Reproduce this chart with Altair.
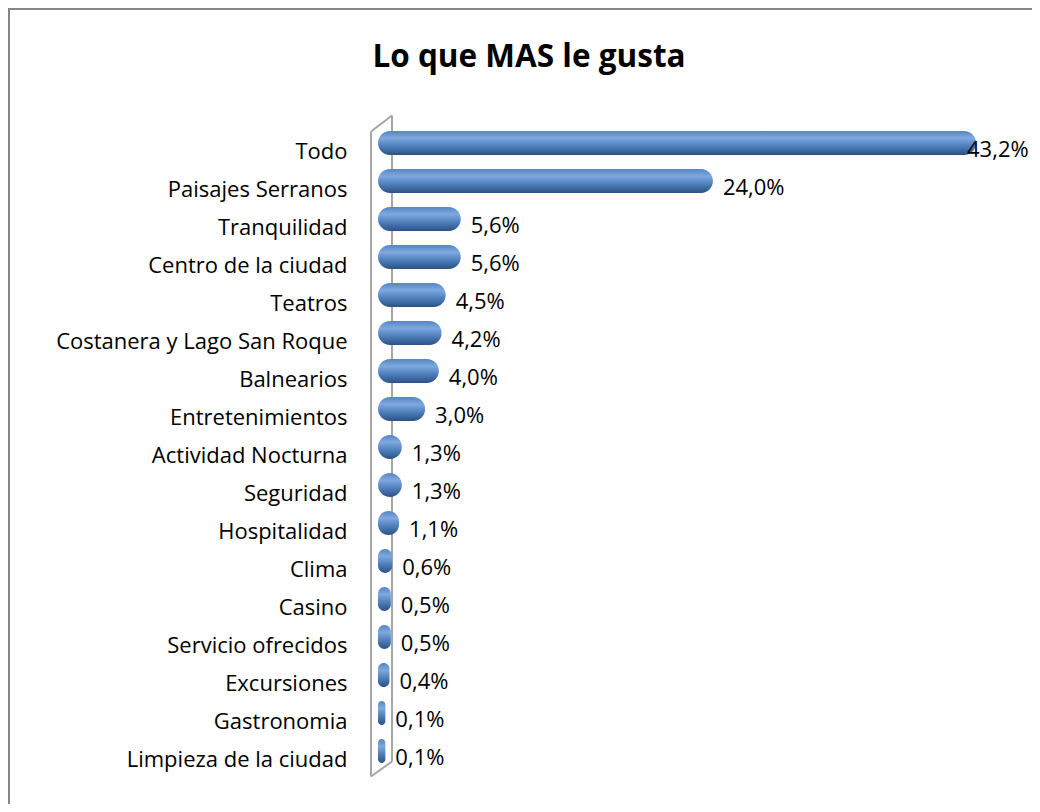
import altair as alt
import pandas as pd

categories = ["Todo", "Paisajes Serranos", "Tranquilidad", "Centro de la ciudad", "Teatros",
              "Costanera y Lago San Roque", "Balnearios", "Entretenimientos", "Actividad Nocturna",
              "Seguridad", "Hospitalidad", "Clima", "Casino ", "Servicio ofrecidos", "Excursiones",
              "Gastronomia", "Limpieza de la ciudad"]
values = [43.2, 24.0, 5.6, 5.6, 4.5, 4.2, 4.0, 3.0, 1.3, 1.3, 1.1, 0.6, 0.5, 0.5, 0.4, 0.1, 0.1]
title_text = "Lo que MAS le gusta"

df = pd.DataFrame({"cat": categories, "v": values})

FONT = "Open Sans"
FS = 22
W, H = 603, 646
PL, PT = 370, 116
TOTAL_W, TOTAL_H = 1024, 796

grad = alt.LinearGradient(
    gradient="linear",
    stops=[alt.GradientStop(color="#5585c4", offset=0),
           alt.GradientStop(color="#7fa8e0", offset=0.3),
           alt.GradientStop(color="#4f81bd", offset=0.62),
           alt.GradientStop(color="#2c5183", offset=1)],
    x1=0, x2=0, y1=0, y2=1)

base = alt.Chart(df)
y_enc = alt.Y("cat:N", sort=categories,
              scale=alt.Scale(paddingInner=0.37, paddingOuter=0.185),
              axis=alt.Axis(title=None, domain=False, ticks=False, grid=False, labelFont=FONT,
                            labelFontSize=FS, labelColor="#000000", labelPadding=31,
                            labelOffset=9, labelLimit=400))
x_scale = alt.Scale(domain=[0, 44], nice=False, zero=True)

bars = base.transform_calculate(zero="0").mark_bar(color=grad, cornerRadius=12, x2Offset=6).encode(
    x=alt.X("zero:Q", scale=x_scale, axis=None),
    x2=alt.X2("v:Q"),
    y=y_enc,
)

lbl_expr = "replace(format(datum.v, '.1f'), '.', ',') + '%'"
labels = base.transform_filter("datum.v < 40").transform_calculate(lbl=lbl_expr).mark_text(
    align="left", baseline="middle", dx=16, dy=7, font=FONT, fontSize=FS, color="#000000").encode(
    x=alt.X("v:Q", scale=x_scale), y=alt.Y("cat:N", sort=categories), text="lbl:N")

labels_top = base.transform_filter("datum.v >= 40").transform_calculate(lbl=lbl_expr).mark_text(
    align="left", baseline="middle", dx=-3, dy=7, font=FONT, fontSize=FS, color="#000000").encode(
    x=alt.X("v:Q", scale=x_scale), y=alt.Y("cat:N", sort=categories), text="lbl:N")

# decorative 3D wall
wall_col = "#a6a6a6"
one = df.head(1)
wall = [
    alt.Chart(one).mark_rule(color=wall_col, strokeWidth=2).encode(
        x=alt.value(-7), x2=alt.value(-7), y=alt.value(7.5), y2=alt.value(652.5)),
    alt.Chart(one).mark_rule(color=wall_col, strokeWidth=2).encode(
        x=alt.value(14), x2=alt.value(14), y=alt.value(-8.5), y2=alt.value(637.5)),
    alt.Chart(one).mark_rule(color=wall_col, strokeWidth=2).encode(
        x=alt.value(-7), x2=alt.value(14), y=alt.value(7.5), y2=alt.value(-8.5)),
    alt.Chart(one).mark_rule(color=wall_col, strokeWidth=2).encode(
        x=alt.value(-7), x2=alt.value(14), y=alt.value(652.5), y2=alt.value(637.5)),
]

border = alt.Chart(one).mark_rect(fill=None, stroke="#868686", strokeWidth=2, clip=False).encode(
    x=alt.value(-PL + 1), x2=alt.value(720), y=alt.value(-PT + 1), y2=alt.value(720))

title = alt.Chart(pd.DataFrame({"t": [title_text]})).mark_text(
    font=FONT, fontSize=31.5, fontWeight="bold", color="#000000", align="center",
    baseline="alphabetic").encode(x=alt.value(151), y=alt.value(-57.5), text="t:N")

chart = alt.layer(border, *wall, bars, labels, labels_top, title).properties(
    width=W, height=H,
    background="#ffffff",
    autosize=alt.AutoSizeParams(type="none"),
    padding={"left": PL, "top": PT, "right": TOTAL_W - PL - W, "bottom": TOTAL_H - PT - H},
).configure_view(strokeWidth=0)

chart.save("out.html", embed_options={"renderer": "svg", "actions": False})
